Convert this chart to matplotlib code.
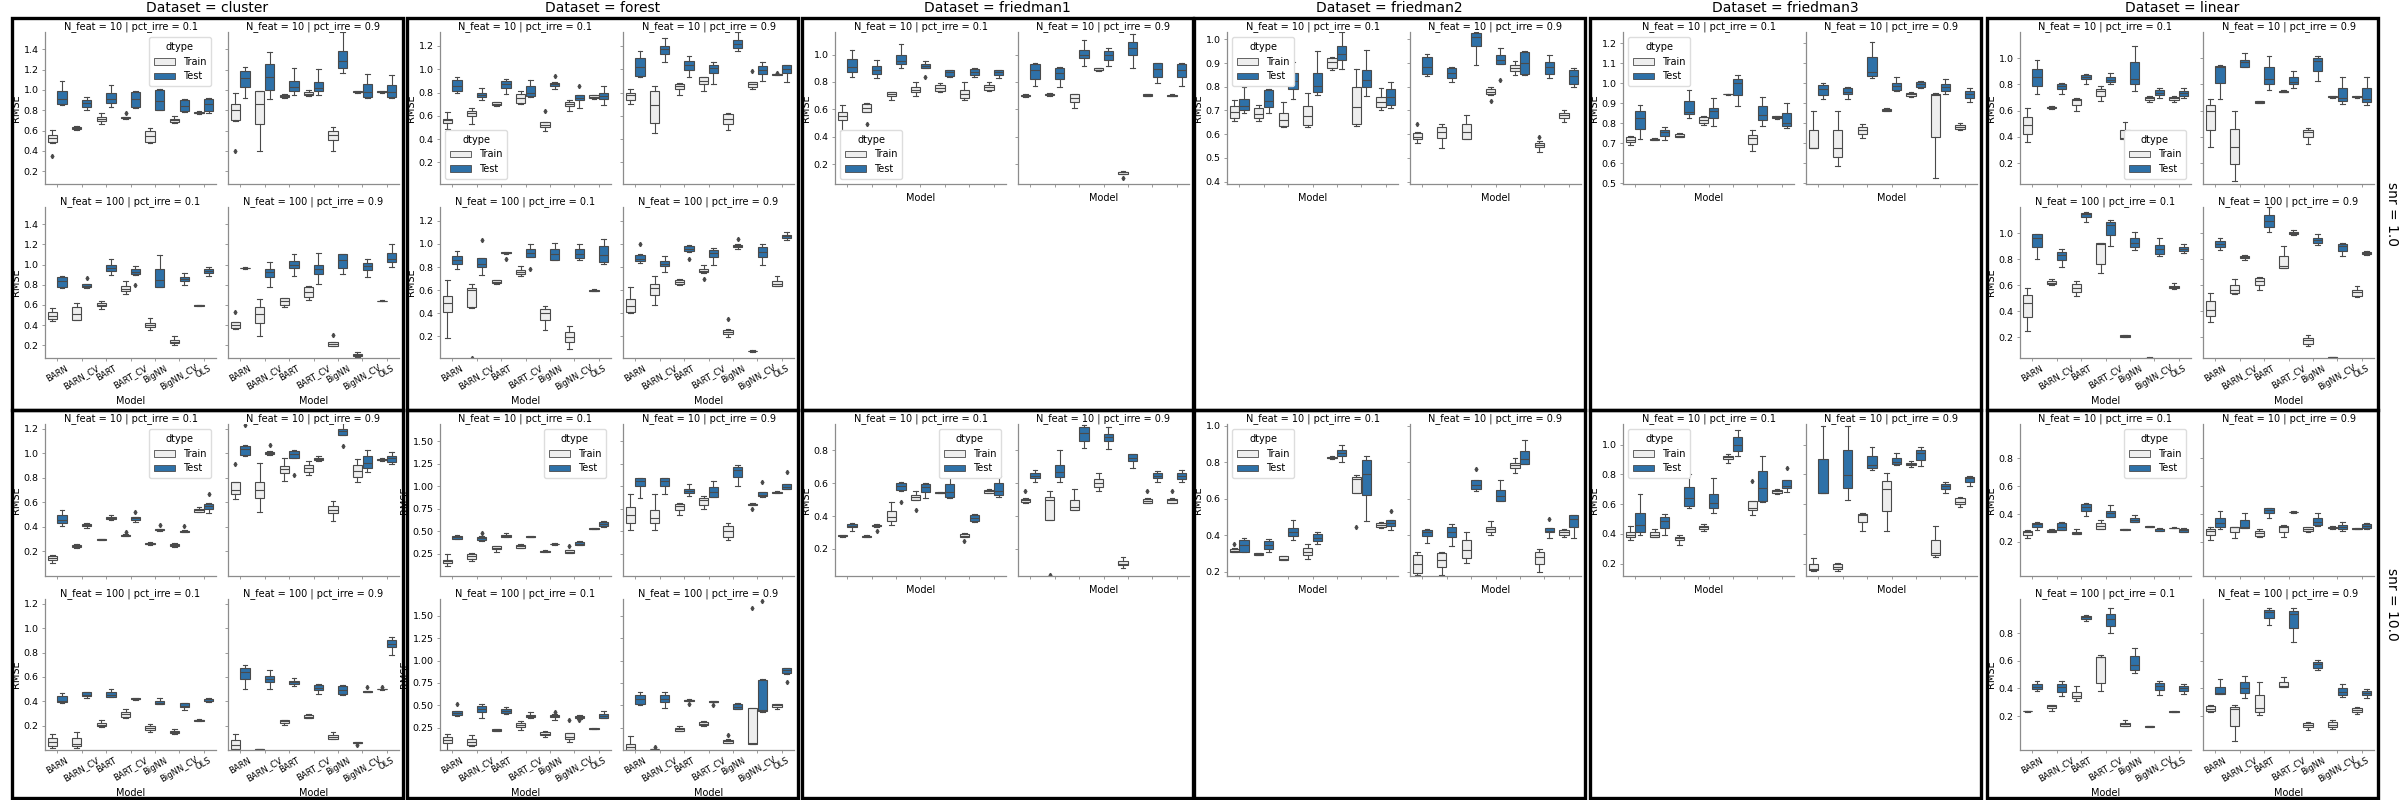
import numpy as np
import matplotlib
matplotlib.use('Agg')
import matplotlib.pyplot as plt
from matplotlib.patches import Rectangle, Patch
from matplotlib.ticker import FormatStrFormatter

models = ['BARN', 'BARN_CV', 'BART', 'BART_CV', 'BigNN', 'BigNN_CV', 'OLS']
datasets = ['cluster', 'forest', 'friedman1', 'friedman2', 'friedman3', 'linear']
snr_levels = [1, 10]

# one box per model: (whisker low, q1, median, q3, whisker high, *outliers)

# ---- cluster, snr = 1.0
cluster_s1_n10_p1_train = [(0.48, 0.49, 0.53, 0.56, 0.61, 0.35), (0.61, 0.615, 0.625, 0.635, 0.65),
                           (0.67, 0.69, 0.71, 0.73, 0.77), (0.715, 0.72, 0.725, 0.73, 0.735, 0.77),
                           (0.48, 0.49, 0.55, 0.60, 0.63), (0.675, 0.685, 0.70, 0.71, 0.74),
                           (0.765, 0.77, 0.775, 0.78, 0.79)]
cluster_s1_n10_p1_test = [(0.85, 0.86, 0.91, 0.99, 1.09), (0.80, 0.835, 0.87, 0.905, 0.93),
                          (0.83, 0.87, 0.915, 0.97, 1.05), (0.82, 0.835, 0.91, 0.98, 0.985),
                          (0.80, 0.805, 0.895, 1.0, 1.01), (0.78, 0.79, 0.845, 0.905, 0.91),
                          (0.77, 0.795, 0.86, 0.915, 0.92)]
cluster_s1_n10_p9_train = [(0.69, 0.70, 0.80, 0.86, 0.97, 0.40), (0.40, 0.67, 0.865, 0.985, 0.99),
                           (0.925, 0.93, 0.94, 0.95, 0.96), (0.945, 0.955, 0.965, 0.98, 1.0),
                           (0.40, 0.51, 0.56, 0.60, 0.64), (0.97, 0.975, 0.98, 0.985, 0.99),
                           (0.97, 0.975, 0.98, 0.985, 0.99)]
cluster_s1_n10_p9_test = [(0.92, 1.03, 1.12, 1.19, 1.23), (0.91, 1.0, 1.13, 1.26, 1.37),
                          (0.95, 0.99, 1.03, 1.09, 1.22), (0.95, 0.985, 1.02, 1.08, 1.21),
                          (1.17, 1.22, 1.28, 1.38, 1.57), (0.925, 0.93, 0.975, 1.06, 1.16),
                          (0.925, 0.93, 0.975, 1.05, 1.15)]
cluster_s1_n100_p1_train = [(0.44, 0.46, 0.49, 0.53, 0.57), (0.45, 0.455, 0.51, 0.58, 0.62),
                            (0.56, 0.59, 0.60, 0.62, 0.64), (0.71, 0.74, 0.76, 0.79, 0.84),
                            (0.35, 0.38, 0.40, 0.42, 0.47), (0.20, 0.22, 0.235, 0.25, 0.29),
                            (0.59, 0.592, 0.595, 0.598, 0.60)]
cluster_s1_n100_p1_test = [(0.77, 0.78, 0.835, 0.88, 0.89), (0.77, 0.78, 0.79, 0.81, 0.81, 0.87),
                           (0.90, 0.94, 0.97, 0.995, 1.06), (0.90, 0.91, 0.93, 0.96, 0.99, 0.80),
                           (0.78, 0.78, 0.85, 0.96, 1.09), (0.80, 0.84, 0.855, 0.875, 0.92),
                           (0.89, 0.92, 0.935, 0.955, 0.98)]
cluster_s1_n100_p9_train = [(0.365, 0.375, 0.40, 0.43, 0.43, 0.53), (0.29, 0.42, 0.51, 0.575, 0.66),
                            (0.58, 0.60, 0.635, 0.665, 0.67), (0.65, 0.68, 0.73, 0.78, 0.785),
                            (0.19, 0.195, 0.21, 0.23, 0.235, 0.30), (0.08, 0.09, 0.10, 0.115, 0.13),
                            (0.635, 0.637, 0.64, 0.643, 0.645)]
cluster_s1_n100_p9_test = [(0.96, 0.962, 0.965, 0.97, 0.98), (0.78, 0.88, 0.93, 0.96, 1.03),
                           (0.89, 0.965, 1.0, 1.04, 1.10), (0.81, 0.91, 0.96, 1.0, 1.11),
                           (0.91, 0.97, 1.05, 1.10, 1.10), (0.875, 0.945, 0.99, 1.02, 1.06),
                           (0.98, 1.03, 1.06, 1.11, 1.20)]

# ---- forest, snr = 1.0
forest_s1_n10_p1_train = [(0.49, 0.54, 0.56, 0.575, 0.63), (0.53, 0.595, 0.62, 0.64, 0.67),
                          (0.68, 0.69, 0.70, 0.715, 0.72), (0.70, 0.71, 0.75, 0.79, 0.81),
                          (0.47, 0.50, 0.52, 0.545, 0.55, 0.64), (0.64, 0.68, 0.70, 0.72, 0.74),
                          (0.745, 0.75, 0.765, 0.775, 0.78)]
forest_s1_n10_p1_test = [(0.80, 0.81, 0.86, 0.905, 0.93), (0.74, 0.76, 0.78, 0.80, 0.84),
                         (0.79, 0.84, 0.87, 0.90, 0.92), (0.765, 0.77, 0.80, 0.86, 0.91),
                         (0.83, 0.855, 0.87, 0.885, 0.89, 0.94), (0.67, 0.735, 0.75, 0.775, 0.78, 0.86),
                         (0.69, 0.745, 0.77, 0.80, 0.855)]
forest_s1_n10_p9_train = [(0.70, 0.74, 0.775, 0.80, 0.83), (0.45, 0.54, 0.69, 0.815, 0.86),
                          (0.78, 0.83, 0.855, 0.875, 0.88), (0.815, 0.87, 0.90, 0.93, 0.93),
                          (0.48, 0.53, 0.575, 0.615, 0.62), (0.83, 0.845, 0.87, 0.89, 0.89, 0.985),
                          (0.95, 0.952, 0.955, 0.958, 0.96, 0.97)]
forest_s1_n10_p9_test = [(0.93, 0.94, 1.02, 1.10, 1.16), (1.065, 1.135, 1.17, 1.20, 1.27),
                         (0.93, 0.99, 1.04, 1.07, 1.11), (0.87, 0.965, 1.01, 1.04, 1.065),
                         (1.16, 1.185, 1.22, 1.25, 1.32), (0.90, 0.96, 0.99, 1.03, 1.065),
                         (0.89, 0.965, 1.0, 1.035, 1.04)]
forest_s1_n100_p1_train = [(0.19, 0.41, 0.49, 0.55, 0.69), (0.45, 0.455, 0.60, 0.62, 0.65, 0.015),
                           (0.655, 0.66, 0.675, 0.685, 0.69), (0.725, 0.74, 0.755, 0.775, 0.81),
                           (0.26, 0.34, 0.40, 0.44, 0.46), (0.09, 0.15, 0.195, 0.235, 0.29),
                           (0.59, 0.59, 0.595, 0.605, 0.61)]
forest_s1_n100_p1_test = [(0.78, 0.83, 0.86, 0.895, 0.94), (0.73, 0.80, 0.825, 0.875, 0.88, 1.035),
                          (0.915, 0.92, 0.925, 0.93, 0.93, 0.87), (0.89, 0.89, 0.925, 0.955, 1.0, 0.78),
                          (0.86, 0.865, 0.91, 0.955, 1.01), (0.865, 0.88, 0.915, 0.955, 1.0),
                          (0.83, 0.84, 0.905, 0.98, 1.04)]
forest_s1_n100_p9_train = [(0.40, 0.41, 0.46, 0.52, 0.63), (0.47, 0.56, 0.62, 0.655, 0.72),
                           (0.645, 0.655, 0.675, 0.69, 0.70), (0.75, 0.755, 0.77, 0.785, 0.82, 0.695),
                           (0.195, 0.22, 0.235, 0.26, 0.265, 0.35), (0.07, 0.072, 0.075, 0.078, 0.08),
                           (0.635, 0.64, 0.655, 0.68, 0.72)]
forest_s1_n100_p9_test = [(0.835, 0.85, 0.87, 0.905, 0.91, 1.0), (0.755, 0.81, 0.83, 0.855, 0.90),
                          (0.935, 0.94, 0.96, 0.98, 0.99, 0.87), (0.82, 0.89, 0.92, 0.95, 0.965),
                          (0.955, 0.97, 0.98, 0.995, 1.0, 1.04), (0.82, 0.885, 0.935, 0.97, 1.0),
                          (1.035, 1.055, 1.065, 1.08, 1.10)]

# ---- friedman1, snr = 1.0
friedman1_s1_n10_p1_train = [(0.44, 0.52, 0.555, 0.58, 0.635), (0.58, 0.583, 0.61, 0.64, 0.645, 0.49),
                             (0.67, 0.70, 0.715, 0.725, 0.73), (0.70, 0.73, 0.745, 0.76, 0.80),
                             (0.725, 0.735, 0.755, 0.775, 0.795), (0.665, 0.68, 0.71, 0.745, 0.80),
                             (0.735, 0.745, 0.765, 0.78, 0.80)]
friedman1_s1_n10_p1_test = [(0.84, 0.875, 0.91, 0.965, 1.035), (0.83, 0.855, 0.89, 0.92, 0.96),
                            (0.90, 0.93, 0.955, 1.0, 1.08), (0.90, 0.90, 0.92, 0.93, 0.955, 0.84),
                            (0.835, 0.845, 0.87, 0.885, 0.89), (0.84, 0.85, 0.875, 0.895, 0.90),
                            (0.83, 0.85, 0.87, 0.885, 0.89)]
friedman1_s1_n10_p9_train = [(0.69, 0.695, 0.70, 0.705, 0.71), (0.70, 0.705, 0.71, 0.715, 0.72),
                             (0.61, 0.655, 0.685, 0.71, 0.715), (0.88, 0.885, 0.89, 0.90, 0.905),
                             (0.125, 0.13, 0.14, 0.145, 0.15, 0.10), (0.695, 0.70, 0.705, 0.71, 0.71),
                             (0.695, 0.70, 0.70, 0.705, 0.71)]
friedman1_s1_n10_p9_test = [(0.77, 0.825, 0.885, 0.93, 0.935), (0.76, 0.82, 0.865, 0.90, 0.91),
                            (0.92, 0.975, 1.0, 1.03, 1.11), (0.92, 0.96, 0.995, 1.025, 1.05),
                            (0.905, 0.995, 1.05, 1.095, 1.15), (0.79, 0.84, 0.895, 0.935, 0.935),
                            (0.77, 0.84, 0.89, 0.93, 0.94)]

# ---- friedman2, snr = 1.0
friedman2_s1_n10_p1_train = [(0.655, 0.67, 0.695, 0.72, 0.745), (0.655, 0.668, 0.685, 0.71, 0.725),
                             (0.63, 0.635, 0.66, 0.69, 0.735), (0.63, 0.64, 0.675, 0.72, 0.775),
                             (0.87, 0.88, 0.905, 0.92, 0.925), (0.635, 0.645, 0.715, 0.80, 0.875),
                             (0.70, 0.715, 0.735, 0.755, 0.795)]
friedman2_s1_n10_p1_test = [(0.69, 0.70, 0.72, 0.75, 0.80), (0.69, 0.715, 0.74, 0.785, 0.79),
                            (0.75, 0.79, 0.825, 0.86, 0.905), (0.765, 0.78, 0.805, 0.86, 0.95),
                            (0.875, 0.915, 0.94, 0.97, 1.03), (0.76, 0.80, 0.83, 0.87, 0.955),
                            (0.71, 0.725, 0.755, 0.79, 0.82)]
friedman2_s1_n10_p9_train = [(0.565, 0.58, 0.59, 0.605, 0.61, 0.645), (0.54, 0.585, 0.61, 0.63, 0.645),
                             (0.58, 0.58, 0.61, 0.645, 0.68), (0.765, 0.77, 0.78, 0.79, 0.80, 0.74),
                             (0.85, 0.865, 0.88, 0.89, 0.91), (0.525, 0.545, 0.555, 0.565, 0.57, 0.59),
                             (0.65, 0.668, 0.68, 0.69, 0.70)]
friedman2_s1_n10_p9_test = [(0.845, 0.855, 0.885, 0.925, 0.94), (0.82, 0.835, 0.86, 0.88, 0.885),
                            (0.89, 0.97, 1.01, 1.025, 1.03), (0.895, 0.895, 0.915, 0.935, 0.965, 0.83),
                            (0.85, 0.853, 0.90, 0.945, 0.95), (0.835, 0.855, 0.885, 0.905, 0.935),
                            (0.80, 0.81, 0.845, 0.87, 0.88)]

# ---- friedman3, snr = 1.0
friedman3_s1_n10_p1_train = [(0.69, 0.705, 0.715, 0.73, 0.735), (0.715, 0.717, 0.72, 0.722, 0.725),
                             (0.73, 0.733, 0.738, 0.745, 0.75), (0.79, 0.80, 0.815, 0.83, 0.835),
                             (0.943, 0.944, 0.945, 0.946, 0.947), (0.66, 0.695, 0.725, 0.74, 0.765),
                             (0.822, 0.825, 0.83, 0.835, 0.838)]
friedman3_s1_n10_p1_test = [(0.72, 0.77, 0.825, 0.86, 0.89), (0.715, 0.738, 0.755, 0.765, 0.78),
                            (0.825, 0.845, 0.855, 0.91, 0.965), (0.785, 0.825, 0.86, 0.875, 0.925),
                            (0.885, 0.94, 1.0, 1.02, 1.04), (0.785, 0.815, 0.84, 0.885, 0.93),
                            (0.775, 0.785, 0.80, 0.85, 0.90)]
friedman3_s1_n10_p9_train = [(0.675, 0.675, 0.677, 0.765, 0.86), (0.585, 0.63, 0.675, 0.765, 0.86),
                             (0.725, 0.745, 0.765, 0.78, 0.795), (0.86, 0.862, 0.865, 0.87, 0.875),
                             (0.932, 0.935, 0.945, 0.952, 0.955), (0.525, 0.73, 0.94, 0.945, 0.953),
                             (0.765, 0.77, 0.78, 0.79, 0.80)]
friedman3_s1_n10_p9_test = [(0.92, 0.94, 0.97, 0.99, 1.0), (0.92, 0.945, 0.955, 0.975, 0.98),
                            (1.025, 1.035, 1.055, 1.13, 1.205), (0.96, 0.965, 0.985, 1.0, 1.03),
                            (0.975, 0.98, 0.998, 1.008, 1.01), (0.945, 0.96, 0.98, 0.995, 1.02),
                            (0.905, 0.925, 0.945, 0.96, 0.975)]

# ---- linear, snr = 1.0
linear_s1_n10_p1_train = [(0.36, 0.425, 0.49, 0.55, 0.62), (0.615, 0.62, 0.625, 0.63, 0.635),
                          (0.60, 0.645, 0.68, 0.69, 0.70), (0.675, 0.71, 0.75, 0.765, 0.785),
                          (0.38, 0.385, 0.39, 0.455, 0.51), (0.665, 0.683, 0.695, 0.705, 0.71),
                          (0.665, 0.68, 0.695, 0.705, 0.715)]
linear_s1_n10_p1_test = [(0.725, 0.79, 0.855, 0.92, 0.985), (0.725, 0.765, 0.785, 0.80, 0.81),
                         (0.805, 0.84, 0.86, 0.875, 0.88), (0.80, 0.815, 0.835, 0.86, 0.89),
                         (0.75, 0.80, 0.845, 0.97, 1.095), (0.695, 0.72, 0.735, 0.755, 0.77),
                         (0.70, 0.715, 0.735, 0.75, 0.77)]
linear_s1_n10_p9_train = [(0.32, 0.455, 0.595, 0.64, 0.685), (0.06, 0.19, 0.32, 0.46, 0.595),
                          (0.655, 0.66, 0.665, 0.67, 0.675), (0.74, 0.742, 0.745, 0.75, 0.755),
                          (0.345, 0.395, 0.44, 0.455, 0.465), (0.70, 0.702, 0.705, 0.708, 0.71),
                          (0.70, 0.702, 0.705, 0.708, 0.71)]
linear_s1_n10_p9_test = [(0.69, 0.81, 0.935, 0.94, 0.945), (0.93, 0.935, 0.97, 0.99, 1.04),
                         (0.76, 0.80, 0.845, 0.935, 1.02), (0.775, 0.80, 0.82, 0.855, 0.90),
                         (0.825, 0.905, 0.98, 1.0, 1.015), (0.65, 0.675, 0.695, 0.77, 0.855),
                         (0.645, 0.665, 0.69, 0.775, 0.86)]
linear_s1_n100_p1_train = [(0.25, 0.355, 0.465, 0.525, 0.58), (0.60, 0.605, 0.615, 0.63, 0.65),
                           (0.515, 0.545, 0.58, 0.605, 0.635), (0.69, 0.765, 0.915, 0.92, 0.925),
                           (0.20, 0.205, 0.21, 0.215, 0.22), (0.035, 0.037, 0.04, 0.042, 0.045),
                           (0.57, 0.575, 0.585, 0.59, 0.615)]
linear_s1_n100_p1_test = [(0.80, 0.89, 0.965, 0.99, 0.99), (0.74, 0.79, 0.83, 0.855, 0.875),
                          (1.085, 1.12, 1.145, 1.155, 1.165), (0.90, 0.985, 1.06, 1.085, 1.10),
                          (0.87, 0.89, 0.92, 0.96, 1.005), (0.82, 0.84, 0.875, 0.91, 0.965),
                          (0.845, 0.86, 0.88, 0.895, 0.915)]
linear_s1_n100_p9_train = [(0.32, 0.36, 0.41, 0.475, 0.54), (0.535, 0.54, 0.56, 0.60, 0.645),
                           (0.56, 0.60, 0.635, 0.655, 0.665), (0.73, 0.735, 0.745, 0.825, 0.90),
                           (0.13, 0.15, 0.175, 0.19, 0.215), (0.04, 0.042, 0.045, 0.048, 0.05),
                           (0.51, 0.52, 0.545, 0.565, 0.59)]
linear_s1_n100_p9_test = [(0.87, 0.89, 0.915, 0.94, 0.96), (0.79, 0.805, 0.815, 0.825, 0.83),
                          (1.01, 1.05, 1.09, 1.135, 1.20), (0.985, 0.99, 1.0, 1.01, 1.02),
                          (0.91, 0.925, 0.95, 0.965, 0.99), (0.82, 0.865, 0.90, 0.915, 0.925),
                          (0.83, 0.84, 0.85, 0.855, 0.86)]

# ---- cluster, snr = 10.0
cluster_s10_n10_p1_train = [(0.105, 0.13, 0.145, 0.16, 0.17), (0.23, 0.235, 0.245, 0.255, 0.265),
                            (0.295, 0.297, 0.30, 0.302, 0.305), (0.325, 0.328, 0.333, 0.336, 0.34, 0.36),
                            (0.255, 0.258, 0.265, 0.27, 0.275), (0.235, 0.245, 0.255, 0.265, 0.27),
                            (0.52, 0.525, 0.535, 0.545, 0.565)]
cluster_s10_n10_p1_test = [(0.41, 0.43, 0.46, 0.50, 0.54), (0.39, 0.405, 0.415, 0.425, 0.435),
                           (0.46, 0.465, 0.475, 0.485, 0.50), (0.44, 0.46, 0.47, 0.48, 0.48, 0.52),
                           (0.37, 0.372, 0.377, 0.38, 0.385, 0.415), (0.36, 0.362, 0.366, 0.37, 0.372, 0.41),
                           (0.51, 0.545, 0.57, 0.59, 0.595, 0.67)]
cluster_s10_n10_p9_train = [(0.625, 0.665, 0.70, 0.77, 0.77, 0.915), (0.52, 0.64, 0.70, 0.77, 0.92),
                            (0.775, 0.84, 0.875, 0.90, 0.96), (0.82, 0.85, 0.885, 0.905, 0.94),
                            (0.445, 0.51, 0.54, 0.575, 0.61), (0.765, 0.805, 0.855, 0.905, 0.955),
                            (0.94, 0.945, 0.95, 0.955, 0.96)]
cluster_s10_n10_p9_test = [(0.98, 0.99, 1.035, 1.06, 1.065, 1.23), (0.99, 0.995, 1.005, 1.015, 1.02, 1.065),
                           (0.96, 0.96, 0.995, 1.02, 1.025, 0.82), (0.935, 0.945, 0.955, 0.965, 0.975),
                           (1.15, 1.15, 1.18, 1.20, 1.25, 1.06), (0.845, 0.88, 0.92, 0.975, 1.03),
                           (0.91, 0.93, 0.96, 0.98, 1.015)]
cluster_s10_n100_p1_train = [(0.02, 0.035, 0.065, 0.10, 0.13), (0.02, 0.03, 0.05, 0.10, 0.15),
                             (0.19, 0.195, 0.205, 0.225, 0.245), (0.265, 0.275, 0.295, 0.31, 0.335),
                             (0.15, 0.165, 0.18, 0.195, 0.21), (0.135, 0.14, 0.15, 0.155, 0.17),
                             (0.235, 0.24, 0.245, 0.25, 0.255)]
cluster_s10_n100_p1_test = [(0.39, 0.395, 0.405, 0.44, 0.465), (0.43, 0.445, 0.455, 0.475, 0.48),
                            (0.435, 0.435, 0.45, 0.475, 0.50), (0.41, 0.415, 0.42, 0.425, 0.43),
                            (0.375, 0.38, 0.39, 0.40, 0.425), (0.325, 0.355, 0.365, 0.385, 0.39),
                            (0.395, 0.40, 0.405, 0.415, 0.43)]
cluster_s10_n100_p9_train = [(0.0, 0.01, 0.04, 0.085, 0.13), (0.002, 0.004, 0.006, 0.008, 0.01),
                             (0.205, 0.22, 0.235, 0.245, 0.25), (0.26, 0.262, 0.275, 0.29, 0.295),
                             (0.09, 0.09, 0.11, 0.125, 0.145), (0.055, 0.057, 0.06, 0.063, 0.065, 0.04),
                             (0.495, 0.498, 0.50, 0.503, 0.505, 0.52)]
cluster_s10_n100_p9_test = [(0.505, 0.58, 0.64, 0.675, 0.695), (0.50, 0.56, 0.585, 0.61, 0.66),
                            (0.525, 0.545, 0.555, 0.565, 0.59), (0.46, 0.495, 0.51, 0.535, 0.545),
                            (0.455, 0.46, 0.49, 0.525, 0.53), (0.475, 0.477, 0.48, 0.483, 0.485, 0.515),
                            (0.78, 0.845, 0.87, 0.905, 0.93)]

# ---- forest, snr = 10.0
forest_s10_n10_p1_train = [(0.115, 0.145, 0.165, 0.18, 0.24), (0.17, 0.19, 0.22, 0.25, 0.26),
                           (0.27, 0.295, 0.31, 0.33, 0.335), (0.31, 0.315, 0.33, 0.35, 0.355),
                           (0.27, 0.272, 0.276, 0.28, 0.285), (0.255, 0.258, 0.27, 0.285, 0.29, 0.33),
                           (0.52, 0.522, 0.528, 0.532, 0.535)]
forest_s10_n10_p1_test = [(0.41, 0.415, 0.43, 0.45, 0.46), (0.385, 0.405, 0.42, 0.435, 0.44, 0.48),
                          (0.43, 0.432, 0.445, 0.46, 0.475), (0.43, 0.432, 0.436, 0.44, 0.445),
                          (0.35, 0.352, 0.357, 0.36, 0.362), (0.34, 0.345, 0.36, 0.375, 0.385),
                          (0.55, 0.56, 0.58, 0.595, 0.61)]
forest_s10_n10_p9_train = [(0.51, 0.59, 0.675, 0.77, 0.915), (0.51, 0.59, 0.645, 0.73, 0.915),
                           (0.675, 0.73, 0.775, 0.795, 0.81), (0.75, 0.785, 0.85, 0.87, 0.89),
                           (0.395, 0.435, 0.50, 0.56, 0.585), (0.785, 0.79, 0.795, 0.80, 0.81, 0.75),
                           (0.925, 0.928, 0.93, 0.935, 0.94)]
forest_s10_n10_p9_test = [(0.87, 1.0, 1.06, 1.09, 1.095), (0.915, 1.005, 1.06, 1.09, 1.095),
                          (0.89, 0.92, 0.945, 0.97, 1.02), (0.875, 0.88, 0.93, 0.99, 1.055),
                          (1.005, 1.105, 1.175, 1.215, 1.23), (0.88, 0.885, 0.90, 0.93, 0.935, 1.04),
                          (0.965, 0.97, 0.985, 1.02, 1.02, 1.155)]
forest_s10_n100_p1_train = [(0.005, 0.08, 0.115, 0.14, 0.18), (0.05, 0.06, 0.095, 0.125, 0.17),
                            (0.21, 0.215, 0.225, 0.235, 0.24), (0.22, 0.255, 0.28, 0.30, 0.32),
                            (0.14, 0.165, 0.18, 0.20, 0.215), (0.095, 0.125, 0.14, 0.19, 0.19, 0.34),
                            (0.235, 0.237, 0.24, 0.242, 0.245)]
forest_s10_n100_p1_test = [(0.38, 0.395, 0.41, 0.44, 0.44, 0.515), (0.355, 0.425, 0.455, 0.49, 0.515),
                           (0.405, 0.415, 0.435, 0.455, 0.48), (0.36, 0.37, 0.38, 0.395, 0.42),
                           (0.34, 0.365, 0.375, 0.39, 0.40, 0.43), (0.35, 0.358, 0.37, 0.38, 0.39, 0.34),
                           (0.355, 0.36, 0.38, 0.40, 0.44)]
forest_s10_n100_p9_train = [(0.0, 0.005, 0.03, 0.07, 0.16), (0.005, 0.008, 0.01, 0.012, 0.015, 0.035),
                            (0.21, 0.215, 0.23, 0.245, 0.27), (0.27, 0.275, 0.295, 0.315, 0.32),
                            (0.075, 0.08, 0.10, 0.115, 0.12, 0.17), (0.07, 0.072, 0.075, 0.465, 0.47, 1.585),
                            (0.46, 0.485, 0.50, 0.51, 0.52)]
forest_s10_n100_p9_test = [(0.505, 0.51, 0.57, 0.615, 0.65), (0.47, 0.535, 0.575, 0.61, 0.645),
                           (0.55, 0.552, 0.558, 0.565, 0.57, 0.51), (0.535, 0.537, 0.54, 0.545, 0.55, 0.50),
                           (0.455, 0.46, 0.485, 0.51, 0.53), (0.43, 0.44, 0.45, 0.785, 0.79, 1.665),
                           (0.85, 0.86, 0.895, 0.915, 0.92, 0.76)]

# ---- friedman1, snr = 10.0
friedman1_s10_n10_p1_train = [(0.275, 0.277, 0.28, 0.282, 0.284), (0.27, 0.272, 0.276, 0.28, 0.282),
                              (0.343, 0.37, 0.395, 0.43, 0.485), (0.50, 0.50, 0.515, 0.53, 0.555, 0.435),
                              (0.54, 0.541, 0.543, 0.545, 0.547), (0.27, 0.275, 0.28, 0.29, 0.295, 0.245),
                              (0.54, 0.542, 0.55, 0.56, 0.565)]
friedman1_s10_n10_p1_test = [(0.31, 0.333, 0.34, 0.35, 0.355), (0.335, 0.337, 0.342, 0.348, 0.35, 0.307),
                             (0.555, 0.558, 0.585, 0.60, 0.605, 0.488), (0.51, 0.545, 0.575, 0.595, 0.60),
                             (0.51, 0.515, 0.545, 0.595, 0.64), (0.365, 0.37, 0.39, 0.405, 0.41),
                             (0.515, 0.525, 0.555, 0.60, 0.645)]
friedman1_s10_n10_p9_train = [(0.48, 0.485, 0.495, 0.505, 0.51, 0.55), (0.375, 0.377, 0.495, 0.515, 0.55, 0.04),
                              (0.435, 0.437, 0.455, 0.50, 0.565), (0.55, 0.575, 0.60, 0.625, 0.66),
                              (0.085, 0.10, 0.11, 0.125, 0.15), (0.48, 0.482, 0.49, 0.505, 0.51, 0.55),
                              (0.48, 0.482, 0.495, 0.505, 0.51, 0.55)]
friedman1_s10_n10_p9_test = [(0.61, 0.63, 0.645, 0.66, 0.68), (0.605, 0.64, 0.665, 0.71, 0.80),
                             (0.815, 0.855, 0.905, 0.94, 0.955), (0.81, 0.855, 0.88, 0.90, 0.94),
                             (0.695, 0.735, 0.755, 0.775, 0.78), (0.61, 0.63, 0.645, 0.66, 0.675),
                             (0.61, 0.625, 0.645, 0.66, 0.68)]

# ---- friedman2, snr = 10.0
friedman2_s10_n10_p1_train = [(0.305, 0.31, 0.315, 0.325, 0.328, 0.352), (0.29, 0.292, 0.297, 0.30, 0.303),
                              (0.262, 0.263, 0.27, 0.283, 0.288), (0.27, 0.29, 0.31, 0.33, 0.35),
                              (0.82, 0.822, 0.825, 0.83, 0.833), (0.63, 0.63, 0.71, 0.72, 0.73, 0.445),
                              (0.44, 0.444, 0.455, 0.465, 0.47)]
friedman2_s10_n10_p1_test = [(0.31, 0.31, 0.345, 0.375, 0.385), (0.31, 0.325, 0.345, 0.37, 0.378),
                             (0.375, 0.395, 0.415, 0.44, 0.485), (0.35, 0.37, 0.385, 0.405, 0.415),
                             (0.80, 0.835, 0.85, 0.87, 0.895), (0.48, 0.62, 0.735, 0.81, 0.835),
                             (0.43, 0.45, 0.465, 0.485, 0.485, 0.535)]
friedman2_s10_n10_p9_train = [(0.18, 0.19, 0.24, 0.29, 0.31), (0.18, 0.225, 0.265, 0.30, 0.31),
                              (0.25, 0.275, 0.32, 0.375, 0.415), (0.40, 0.42, 0.435, 0.445, 0.48),
                              (0.74, 0.77, 0.785, 0.795, 0.825), (0.20, 0.24, 0.28, 0.31, 0.325),
                              (0.39, 0.40, 0.415, 0.43, 0.435)]
friedman2_s10_n10_p9_test = [(0.355, 0.395, 0.415, 0.43, 0.435), (0.34, 0.39, 0.42, 0.445, 0.46),
                             (0.64, 0.655, 0.675, 0.70, 0.70, 0.765), (0.585, 0.585, 0.615, 0.65, 0.705),
                             (0.79, 0.79, 0.82, 0.86, 0.92), (0.385, 0.415, 0.425, 0.44, 0.44, 0.488),
                             (0.385, 0.445, 0.49, 0.51, 0.51)]

# ---- friedman3, snr = 10.0
friedman3_s10_n10_p1_train = [(0.36, 0.375, 0.39, 0.41, 0.45), (0.38, 0.38, 0.395, 0.415, 0.435),
                              (0.325, 0.36, 0.37, 0.38, 0.39), (0.42, 0.435, 0.445, 0.455, 0.465),
                              (0.875, 0.90, 0.915, 0.925, 0.935), (0.525, 0.56, 0.575, 0.62, 0.62, 0.755),
                              (0.67, 0.675, 0.685, 0.695, 0.70)]
friedman3_s10_n10_p1_test = [(0.39, 0.41, 0.46, 0.54, 0.665), (0.39, 0.44, 0.485, 0.515, 0.535),
                             (0.575, 0.59, 0.64, 0.715, 0.80), (0.54, 0.57, 0.61, 0.665, 0.775),
                             (0.92, 0.955, 1.0, 1.05, 1.10), (0.615, 0.62, 0.71, 0.82, 0.925),
                             (0.68, 0.705, 0.72, 0.76, 0.76, 0.84)]
friedman3_s10_n10_p9_train = [(0.15, 0.155, 0.165, 0.20, 0.235), (0.15, 0.16, 0.175, 0.195, 0.205),
                              (0.42, 0.48, 0.525, 0.535, 0.54), (0.42, 0.555, 0.70, 0.755, 0.81),
                              (0.85, 0.86, 0.87, 0.878, 0.887), (0.245, 0.255, 0.27, 0.36, 0.45),
                              (0.58, 0.60, 0.615, 0.64, 0.65)]
friedman3_s10_n10_p9_test = [(0.675, 0.675, 0.675, 0.905, 1.125), (0.625, 0.71, 0.795, 0.96, 1.125),
                             (0.83, 0.84, 0.86, 0.92, 0.98), (0.865, 0.87, 0.88, 0.91, 0.94),
                             (0.855, 0.895, 0.94, 0.96, 0.985), (0.675, 0.70, 0.72, 0.735, 0.745),
                             (0.72, 0.75, 0.775, 0.785, 0.79)]

# ---- linear, snr = 10.0
linear_s10_n10_p1_train = [(0.225, 0.25, 0.27, 0.28, 0.285), (0.27, 0.27, 0.278, 0.285, 0.295),
                           (0.258, 0.26, 0.265, 0.27, 0.29), (0.29, 0.295, 0.315, 0.335, 0.355),
                           (0.285, 0.287, 0.29, 0.293, 0.295), (0.305, 0.307, 0.31, 0.312, 0.315),
                           (0.297, 0.298, 0.30, 0.302, 0.304)]
linear_s10_n10_p1_test = [(0.285, 0.305, 0.325, 0.335, 0.345), (0.285, 0.285, 0.305, 0.335, 0.34),
                          (0.385, 0.425, 0.45, 0.47, 0.48), (0.38, 0.38, 0.41, 0.425, 0.465),
                          (0.34, 0.34, 0.355, 0.37, 0.39), (0.275, 0.28, 0.29, 0.295, 0.298),
                          (0.268, 0.27, 0.285, 0.295, 0.30)]
linear_s10_n10_p9_train = [(0.215, 0.25, 0.28, 0.295, 0.305), (0.23, 0.27, 0.305, 0.307, 0.31),
                           (0.235, 0.245, 0.265, 0.28, 0.29), (0.235, 0.27, 0.305, 0.315, 0.32),
                           (0.27, 0.275, 0.295, 0.305, 0.31), (0.295, 0.297, 0.30, 0.305, 0.315),
                           (0.29, 0.292, 0.295, 0.298, 0.30)]
linear_s10_n10_p9_test = [(0.295, 0.305, 0.335, 0.375, 0.42), (0.30, 0.30, 0.31, 0.36, 0.41),
                          (0.375, 0.41, 0.43, 0.44, 0.44), (0.41, 0.412, 0.415, 0.418, 0.42),
                          (0.315, 0.32, 0.345, 0.37, 0.41), (0.28, 0.29, 0.305, 0.32, 0.345),
                          (0.29, 0.297, 0.315, 0.33, 0.338)]
linear_s10_n100_p1_train = [(0.233, 0.235, 0.237, 0.239, 0.24), (0.238, 0.26, 0.275, 0.28, 0.283),
                            (0.31, 0.328, 0.345, 0.375, 0.415), (0.38, 0.44, 0.625, 0.63, 0.64),
                            (0.125, 0.128, 0.14, 0.15, 0.17), (0.12, 0.122, 0.125, 0.128, 0.13),
                            (0.228, 0.23, 0.232, 0.235, 0.237)]
linear_s10_n100_p1_test = [(0.38, 0.395, 0.41, 0.435, 0.455), (0.345, 0.375, 0.41, 0.435, 0.455),
                           (0.89, 0.905, 0.915, 0.925, 0.93), (0.80, 0.85, 0.905, 0.94, 0.98),
                           (0.515, 0.53, 0.57, 0.635, 0.695), (0.355, 0.39, 0.42, 0.44, 0.455),
                           (0.36, 0.38, 0.40, 0.415, 0.43)]
linear_s10_n100_p9_train = [(0.228, 0.235, 0.25, 0.27, 0.28), (0.02, 0.13, 0.25, 0.265, 0.28),
                            (0.21, 0.23, 0.26, 0.355, 0.45), (0.41, 0.413, 0.42, 0.45, 0.48),
                            (0.097, 0.12, 0.135, 0.15, 0.157), (0.108, 0.12, 0.135, 0.155, 0.175),
                            (0.217, 0.228, 0.243, 0.258, 0.265)]
linear_s10_n100_p9_test = [(0.36, 0.362, 0.37, 0.413, 0.465), (0.33, 0.366, 0.40, 0.445, 0.49),
                           (0.86, 0.91, 0.955, 0.97, 0.985), (0.735, 0.835, 0.935, 0.96, 0.98),
                           (0.535, 0.55, 0.575, 0.59, 0.605), (0.34, 0.35, 0.375, 0.40, 0.435),
                           (0.33, 0.35, 0.37, 0.385, 0.395)]

# shared y axis of every Dataset x snr block
y_limits = {
    ('cluster', 1): (0.075, 1.57), ('forest', 1): (0.014, 1.32), ('friedman1', 1): (0.055, 1.165),
    ('friedman2', 1): (0.39, 1.031), ('friedman3', 1): (0.497, 1.256), ('linear', 1): (0.04, 1.2),
    ('cluster', 10): (0.0, 1.24), ('forest', 10): (0.0, 1.69), ('friedman1', 10): (0.035, 0.96),
    ('friedman2', 10): (0.176, 1.01), ('friedman3', 10): (0.116, 1.138), ('linear', 10): (-0.045, 1.047),
}
y_ticks = {
    ('cluster', 1): [0.2, 0.4, 0.6, 0.8, 1.0, 1.2, 1.4], ('forest', 1): [0.2, 0.4, 0.6, 0.8, 1.0, 1.2],
    ('friedman1', 1): [0.2, 0.4, 0.6, 0.8, 1.0], ('friedman2', 1): [0.4, 0.5, 0.6, 0.7, 0.8, 0.9, 1.0],
    ('friedman3', 1): [0.5, 0.6, 0.7, 0.8, 0.9, 1.0, 1.1, 1.2], ('linear', 1): [0.2, 0.4, 0.6, 0.8, 1.0],
    ('cluster', 10): [0.2, 0.4, 0.6, 0.8, 1.0, 1.2], ('forest', 10): [0.25, 0.5, 0.75, 1.0, 1.25, 1.5],
    ('friedman1', 10): [0.2, 0.4, 0.6, 0.8], ('friedman2', 10): [0.2, 0.4, 0.6, 0.8, 1.0],
    ('friedman3', 10): [0.2, 0.4, 0.6, 0.8, 1.0], ('linear', 10): [0.2, 0.4, 0.6, 0.8],
}
legend_loc = {
    ('cluster', 1): 'upper right', ('forest', 1): 'lower left', ('friedman1', 1): 'lower left',
    ('friedman2', 1): 'upper left', ('friedman3', 1): 'upper left', ('linear', 1): 'lower right',
    ('cluster', 10): 'upper right', ('forest', 10): 'upper right', ('friedman1', 10): 'upper right',
    ('friedman2', 10): 'upper left', ('friedman3', 10): 'upper left', ('linear', 10): 'upper right',
}

TRAIN_C = '#eeeeee'
TEST_C = '#2e71a8'
LINE_C = '#4a4a4a'
SPINE_C = '#8c8c8c'

W, H = 2400, 800
fig = plt.figure(figsize=(24, 8), dpi=100)


def frac(x, y, w, h):
    # pixel box (top-left origin) -> figure fraction
    return [x / W, 1 - (y + h) / H, w / W, h / H]


def draw_panel(ax, train, test):
    for boxes, off, face in [(train, -0.2, TRAIN_C), (test, 0.2, TEST_C)]:
        stats = []
        for m, b in zip(models, boxes):
            stats.append(dict(label=m, whislo=b[0], q1=b[1], med=b[2], q3=b[3], whishi=b[4],
                              fliers=list(b[5:])))
        ax.bxp(stats, positions=np.arange(len(models)) + off, widths=0.38,
               patch_artist=True, manage_ticks=False,
               boxprops=dict(facecolor=face, edgecolor=LINE_C, linewidth=0.8),
               medianprops=dict(color=LINE_C, linewidth=0.8),
               whiskerprops=dict(color=LINE_C, linewidth=0.8),
               capprops=dict(color=LINE_C, linewidth=0.8),
               flierprops=dict(marker='d', markersize=2.2, markerfacecolor=LINE_C,
                               markeredgecolor=LINE_C, linestyle='none'))


cell_x = [12, 407, 802, 1194, 1590, 1987]
cell_y = [18, 410]
cell_w = 391
cell_h = [392, 388]

for r, snr in enumerate(snr_levels):
    for c, ds in enumerate(datasets):
        x0, y0 = cell_x[c], cell_y[r]
        key = (ds, snr)
        nfs = [10] if ds.startswith('friedman') else [10, 100]
        for i, nf in enumerate(nfs):
            for j, p in enumerate([1, 9]):
                ah = 152 if i == 0 else 151
                ax = fig.add_axes(frac(x0 + 33 + 183 * j, y0 + (14 if i == 0 else 189), 171, ah))
                train = globals()[f'{ds}_s{snr}_n{nf}_p{p}_train']
                test = globals()[f'{ds}_s{snr}_n{nf}_p{p}_test']
                draw_panel(ax, train, test)
                ax.set_xlim(-0.5, len(models) - 0.5)
                ax.set_ylim(*y_limits[key])
                ax.set_yticks(y_ticks[key])
                ax.yaxis.set_major_formatter(FormatStrFormatter('%.2f' if key == ('forest', 10) else '%.1f'))
                ax.set_xticks(np.arange(len(models)))
                ax.set_title(f'N_feat = {nf} | pct_irre = 0.{p}', fontsize=7, pad=2)
                for s in ['top', 'right']:
                    ax.spines[s].set_visible(False)
                for s in ['left', 'bottom']:
                    ax.spines[s].set_color(SPINE_C)
                    ax.spines[s].set_linewidth(0.9)
                ax.tick_params(axis='y', labelsize=6.8, length=2.5, width=0.6, color=SPINE_C, pad=2)
                ax.tick_params(axis='x', labelsize=6.0, length=2.5, width=0.6, color=SPINE_C, pad=1.5)
                last_row = (i == len(nfs) - 1)
                if last_row and len(nfs) == 2:
                    ax.set_xticklabels(models, rotation=30)
                    ax.set_xlabel('Model', fontsize=7)
                    ax.xaxis.set_label_coords(0.5, -38 / ah)
                elif last_row:
                    ax.set_xticklabels([])
                    ax.set_xlabel('Model', fontsize=7)
                    ax.xaxis.set_label_coords(0.5, -9 / ah)
                else:
                    ax.set_xticklabels([])
                if j == 0:
                    ax.set_ylabel('RMSE', fontsize=7, labelpad=2)
                else:
                    ax.set_yticklabels([])
                if i == 0 and j == 0:
                    handles = [Patch(facecolor=TRAIN_C, edgecolor=LINE_C, linewidth=0.6, label='Train'),
                               Patch(facecolor=TEST_C, edgecolor=LINE_C, linewidth=0.6, label='Test')]
                    ax.legend(handles=handles, title='dtype', loc=legend_loc[key], fontsize=7,
                              title_fontsize=7, frameon=True, edgecolor='#dddddd', framealpha=1,
                              handlelength=2.2, borderpad=0.5)
        fig.add_artist(Rectangle((x0 / W, 1 - (y0 + cell_h[r]) / H), cell_w / W, cell_h[r] / H,
                                 transform=fig.transFigure, fill=False, edgecolor='black',
                                 linewidth=2.4, zorder=10))

for c, ds in enumerate(datasets):
    fig.text((cell_x[c] + cell_w / 2) / W, 1 - 8 / H, f'Dataset = {ds}', ha='center', va='center',
             fontsize=10)
for r, snr in enumerate(snr_levels):
    fig.text(2392 / W, 1 - (cell_y[r] + cell_h[r] / 2) / H, f'snr = {float(snr)}', rotation=-90,
             ha='center', va='center', fontsize=10)

fig.savefig('out.png', dpi=100)
